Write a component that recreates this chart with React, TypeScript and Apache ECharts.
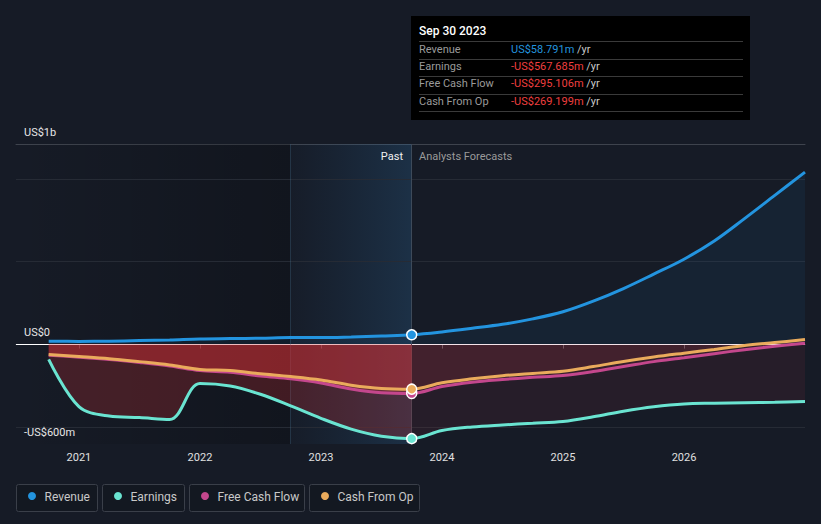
import React, { useEffect, useRef } from "react";
import * as echarts from "echarts";

// ---- Data (US$ millions, x in decimal years) ----
const periodsPast = [2020.75, 2021.0, 2021.25, 2021.5, 2021.75, 2022.0, 2022.25, 2022.5, 2022.75, 2023.0, 2023.25, 2023.5, 2023.75];
const revenuePast = [20, 19, 20, 24, 28, 34, 36, 38, 42, 42, 46, 52, 58.791];
const earningsPast = [-90, -375, -431, -440, -452, -235, -250, -300, -370, -445, -510, -553, -567.685];
const fcfPast = [-64, -76, -90, -108, -129, -157, -167, -190, -207, -232, -268, -291, -295.106];
const cfoPast = [-60, -72, -85, -103, -123, -150, -157, -176, -193, -214, -245, -265, -269.199];

const periodsForecast = [2023.75, 2024.0, 2024.25, 2024.5, 2024.75, 2025.0, 2025.25, 2025.5, 2025.75, 2026.0, 2026.25, 2026.5, 2026.75, 2027.0];
const revenueForecast = [58.791, 76, 98, 122, 155, 198, 262, 338, 425, 515, 625, 760, 900, 1040];
const earningsForecast = [-567.685, -519, -497, -485, -475, -464, -436, -402, -375, -358, -354, -351, -348, -344];
const fcfForecast = [-295.106, -253, -227, -211, -198, -187, -163, -133, -103, -80, -55, -31, -10, 8];
const cfoForecast = [-269.199, -231, -207, -188, -174, -161, -133, -102, -75, -52, -30, -6, 12, 30];

const yearTicks = [2021, 2022, 2023, 2024, 2025, 2026];
const gridValues = [-500, 500, 1000];
const yLabels = [
  { text: "US$1b", y: 132 },
  { text: "US$0", y: 332 },
  { text: "-US$600m", y: 432 },
];
const seriesNames = ["Revenue", "Earnings", "Free Cash Flow", "Cash From Op"];
const seriesColors = ["#2394df", "#6ae4d1", "#c4478d", "#eaab5c"];
const tooltipDate = "Sep 30 2023";
const tooltipValues = ["US$58.791m", "-US$567.685m", "-US$295.106m", "-US$269.199m"];
const highlightStart = 2022.75;
const presentX = 2023.75;
const xMin = 2020.48;
const xMax = 2027.0;
const yMin = -600;
const yMax = 1210;

const BG = "#161b26";

function pairs(xs: number[], ys: number[]) {
  return xs.map((x, i) => [x, ys[i]]);
}

function fullLine(past: number[], fc: number[], color: string) {
  const xs = periodsPast.concat(periodsForecast.slice(1));
  const ys = past.concat(fc.slice(1));
  return xs.map((x, i) => {
    if (x === presentX) {
      return {
        value: [x, ys[i]],
        symbol: "circle",
        symbolSize: 10,
        itemStyle: { color, borderColor: "#ffffff", borderWidth: 1.5 },
      };
    }
    return { value: [x, ys[i]] };
  });
}

export default function App() {
  const ref = useRef<HTMLDivElement>(null);

  useEffect(() => {
    document.body.style.margin = "0";
    const chart = echarts.init(ref.current!, undefined, { renderer: "svg" });
    const font = "Roboto, 'Noto Sans', sans-serif";
    const smooth = 0.35;

    const areaSeries = (name: string, xs: number[], ys: number[], color: any, extra: any = {}) => ({
      name,
      type: "line",
      data: pairs(xs, ys),
      smooth,
      symbol: "none",
      silent: true,
      lineStyle: { width: 0 },
      areaStyle: { color, origin: 0 },
      z: 2,
      ...extra,
    });

    const pastRed = "rgba(222,50,56,0.34)";
    const fcRed = "rgba(228,62,72,0.11)";

    const series: any[] = [
      areaSeries(
        "revArea",
        periodsPast.concat(periodsForecast.slice(1)),
        revenuePast.concat(revenueForecast.slice(1)),
        "rgba(35,148,223,0.1)",
        {
          markArea: {
            silent: true,
            z: 1,
            data: [
              [
                {
                  xAxis: xMin,
                  itemStyle: {
                    color: new echarts.graphic.LinearGradient(0, 0, 1, 0, [
                      { offset: 0, color: "rgba(0,0,0,0.0)" },
                      { offset: 1, color: "rgba(0,0,0,0.22)" },
                    ]),
                  },
                },
                { xAxis: highlightStart },
              ],
              [
                {
                  xAxis: highlightStart,
                  itemStyle: {
                    color: new echarts.graphic.LinearGradient(0, 0, 1, 0, [
                      { offset: 0, color: "rgba(40,110,170,0.02)" },
                      { offset: 1, color: "rgba(50,125,185,0.22)" },
                    ]),
                  },
                },
                { xAxis: presentX },
              ],
            ],
          },
          markLine: {
            silent: true,
            symbol: "none",
            z: 1,
            label: { show: false },
            data: [
              ...gridValues.map((v) => ({ yAxis: v, lineStyle: { color: "#262b35", width: 1, type: "solid" } })),
              { yAxis: 0, lineStyle: { color: "#ffffff", width: 1, type: "solid" } },
              { xAxis: highlightStart, lineStyle: { color: "rgba(70,110,140,0.35)", width: 1, type: "solid" } },
              { xAxis: presentX, lineStyle: { color: "#3d4a5a", width: 1, type: "solid" } },
            ],
          },
        }
      ),
      areaSeries("earnPastArea", periodsPast, earningsPast, pastRed),
      areaSeries("fcfPastArea", periodsPast, fcfPast, pastRed),
      areaSeries("cfoPastArea", periodsPast, cfoPast, pastRed),
      areaSeries("earnFcArea", periodsForecast, earningsForecast, fcRed),
      areaSeries("fcfFcArea", periodsForecast, fcfForecast, fcRed),
      areaSeries("cfoFcArea", periodsForecast, cfoForecast, fcRed),
    ];

    const lines = [
      [revenuePast, revenueForecast],
      [earningsPast, earningsForecast],
      [fcfPast, fcfForecast],
      [cfoPast, cfoForecast],
    ];
    const order = [1, 2, 3, 0];
    order.forEach((i) => {
      series.push({
        name: seriesNames[i],
        type: "line",
        data: fullLine(lines[i][0], lines[i][1], seriesColors[i]),
        smooth,
        showSymbol: true,
        symbol: "none",
        lineStyle: { color: seriesColors[i], width: 3 },
        itemStyle: { color: seriesColors[i] },
        z: 3,
      });
    });

    const graphic: any[] = [];
    // tooltip box
    graphic.push({ type: "rect", shape: { x: 411, y: 16, width: 339, height: 104 }, style: { fill: "#000000" }, z: 100 });
    graphic.push({
      type: "text",
      x: 419,
      y: 31,
      style: { text: tooltipDate, fill: "#ffffff", fontSize: 12, fontWeight: 500, fontFamily: font, verticalAlign: "middle" },
      z: 101,
    });
    for (let i = 0; i < 5; i++) {
      const y = Math.round(41 + i * 17.6) + 0.5;
      graphic.push({ type: "line", shape: { x1: 419, y1: y, x2: 743, y2: y }, style: { stroke: "#3a3a3a", lineWidth: 1 }, z: 101 });
    }
    seriesNames.forEach((n, i) => {
      const y = 49 + i * 17.4;
      graphic.push({
        type: "text",
        x: 419,
        y,
        style: { text: n, fill: "#9a9a9a", fontSize: 11, fontFamily: font, verticalAlign: "middle" },
        z: 101,
      });
      graphic.push({
        type: "text",
        x: 511,
        y,
        style: {
          text: `{v|${tooltipValues[i]}} {u|/yr}`,
          fontSize: 11,
          fontFamily: font,
          verticalAlign: "middle",
          rich: {
            v: { fill: i === 0 ? "#2394df" : "#ee3f3f", fontSize: 11, fontFamily: font },
            u: { fill: "#c8c8c8", fontSize: 11, fontFamily: font },
          },
        },
        z: 101,
      });
    });
    // y labels
    yLabels.forEach((l) => {
      graphic.push({
        type: "text",
        x: 24,
        y: l.y,
        style: { text: l.text, fill: "#e6e6e6", fontSize: 11, fontFamily: font, verticalAlign: "middle" },
        z: 50,
      });
    });
    // Past / forecasts
    graphic.push({
      type: "text",
      x: 403,
      y: 156,
      style: { text: "Past", fill: "#f0f0f0", fontSize: 11, fontFamily: font, align: "right", verticalAlign: "middle" },
      z: 50,
    });
    graphic.push({
      type: "text",
      x: 419,
      y: 156,
      style: { text: "Analysts Forecasts", fill: "#9a9a9a", fontSize: 11, fontFamily: font, verticalAlign: "middle" },
      z: 50,
    });
    // legend
    const boxes = [
      [16.5, 81],
      [102.5, 82],
      [189.5, 115],
      [309.5, 110],
    ];
    seriesNames.forEach((n, i) => {
      const [bx, bw] = boxes[i];
      graphic.push({
        type: "rect",
        shape: { x: bx, y: 484.5, width: bw, height: 27, r: 2 },
        style: { fill: "#131821", stroke: "#3a3f49", lineWidth: 1 },
        z: 50,
      });
      graphic.push({
        type: "circle",
        shape: { cx: bx + 15.5, cy: 496, r: 4 },
        style: { fill: seriesColors[i] },
        z: 51,
      });
      graphic.push({
        type: "text",
        x: bx + 28,
        y: 496.5,
        style: { text: n, fill: "#c8c8c8", fontSize: 12, fontFamily: font, verticalAlign: "middle" },
        z: 51,
      });
    });

    chart.setOption({
      animation: false,
      backgroundColor: BG,
      textStyle: { fontFamily: font },
      grid: { left: 16, right: 16, top: 144, bottom: 80, containLabel: false },
      xAxis: [
        {
          type: "value",
          min: xMin,
          max: xMax,
          position: "bottom",
          axisLine: { show: true, lineStyle: { color: "#4a4f59", width: 1 } },
          axisTick: { show: true, customValues: yearTicks, length: 4, lineStyle: { color: "#5a5f69" } },
          axisLabel: {
            show: true,
            customValues: yearTicks,
            formatter: (v: number) => String(Math.round(v)),
            color: "#e0e0e0",
            fontSize: 11,
            margin: 8,
            fontFamily: font,
          },
          splitLine: { show: false },
        },
        {
          type: "value",
          min: xMin,
          max: xMax,
          position: "top",
          axisLine: { show: true, lineStyle: { color: "#3e434d", width: 1 } },
          axisTick: { show: false },
          axisLabel: { show: false },
          splitLine: { show: false },
        },
      ],
      yAxis: {
        type: "value",
        min: yMin,
        max: yMax,
        show: false,
        splitLine: { show: false },
      },
      series,
      graphic,
    });

    return () => chart.dispose();
  }, []);

  return <div ref={ref} style={{ position: "fixed", left: 0, top: 0, width: 821, height: 524 }} />;
}
